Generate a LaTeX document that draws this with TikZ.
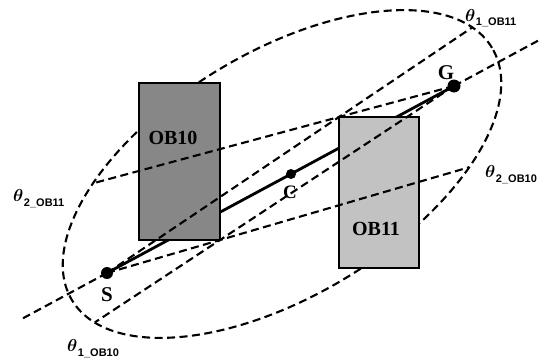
\documentclass[tikz,border=0pt]{standalone}
\usepackage{amsmath}
\usepackage{fontspec}
\setmainfont{Liberation Serif}
\setsansfont{Liberation Sans}
\usetikzlibrary{calc}
\newcommand\mythlab[1]{{\fontsize{19}{19}\selectfont$\boldsymbol{\theta}$}\kern0.5pt\raisebox{-5pt}{\fontsize{11}{11}\selectfont\sffamily\bfseries #1}}
\begin{document}
\begin{tikzpicture}[x=1pt,y=1pt,
  dl/.style={line width=2.1pt, dash pattern=on 8pt off 4.5pt},
  pathline/.style={line width=2.8pt, line join=round},
  obbox/.style={draw, line width=2.6pt, rectangle, inner sep=0pt, outer sep=0pt},
  dot/.style={circle, fill=black, inner sep=0pt, minimum size=#1},
  ptlab/.style={font=\fontsize{21}{21}\selectfont\bfseries, inner sep=0pt},
  oblab/.style={font=\fontsize{20}{20}\selectfont\bfseries, inner sep=0pt},
  thl/.style={anchor=base west, inner sep=0pt}]
\useasboundingbox (0,0) rectangle (542,360);
\fill[white] (0,0) rectangle (542,360);
% search ellipse
\draw[dl, rotate around={31:(282,186)}] (282,186) ellipse (245pt and 122pt);
% points
\node[dot=12pt] (S) at (107,87) {};
\node[dot=10pt] (C) at (291,186) {};
\node[dot=13pt] (G) at (454,274) {};
% path S - C - G
\draw[pathline] (S.center) -- (C.center) -- (G.center);
% obstacles
\node[obbox, fill=black!47, minimum width=81pt, minimum height=157pt] (ob10) at (179.5,198.5) {};
\node[obbox, fill=black!24, minimum width=80pt, minimum height=151pt] (ob11) at (379,167.5) {};
\node[oblab] (l10) at (173,222) {OB10};
\node[oblab] (l11) at (376,131) {OB11};
% end points on the ellipse
\coordinate (e11) at ($(S.center)!1.575!(ob11.north west)$);
\coordinate (e210) at ($(S.center)!3.205!(ob10.south east)$);
\coordinate (e211) at ($(G.center)!3.14!(ob11.north west)$);
\coordinate (e110) at ($(G.center)!1.535!(ob10.south east)$);
\coordinate (a1) at ($(S.center)!-0.242!(G.center)$);
\coordinate (a2) at ($(G.center)!-0.242!(S.center)$);
% tangent lines
\draw[dl] (S.center) -- (e11);
\draw[dl] (S.center) -- (e210);
\draw[dl] (G.center) -- (e211);
\draw[dl] (G.center) -- (e110);
\draw[dl] (S.center) -- (a1);
\draw[dl] (G.center) -- (a2);
% point labels
\node[ptlab] (lg) at (446,287) {G};
\node[ptlab] (ls) at (107,65) {S};
\node[ptlab, font=\fontsize{19}{19}\selectfont\bfseries] (lc) at (290,168) {C};
% angle labels
\node[thl] (t111) at (465,339) {\mythlab{1\_OB11}};
\node[thl] (t210) at (485,183) {\mythlab{2\_OB10}};
\node[thl] (t211) at (13,159) {\mythlab{2\_OB11}};
\node[thl] (t110) at (67,9) {\mythlab{1\_OB10}};
\end{tikzpicture}
\end{document}
